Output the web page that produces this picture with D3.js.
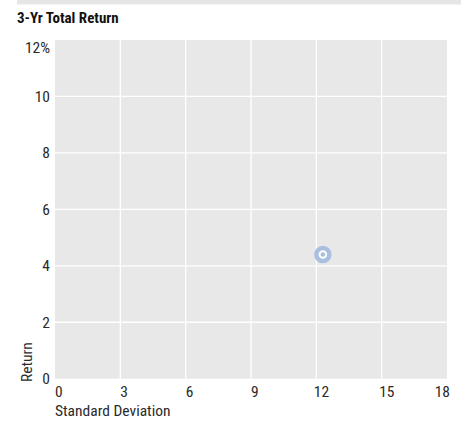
<!DOCTYPE html>
<html>
<head>
<meta charset="utf-8">
<script src="https://cdn.jsdelivr.net/npm/d3@7"></script>
<style>
  body { margin: 0; background: #fff; }
  text { font-family: "Liberation Sans Narrow", "Roboto Condensed", "Arial Narrow", sans-serif; fill: #2a2a2a; }
</style>
</head>
<body>
<svg id="canvas"></svg>
<script>
const xTicks = [0, 3, 6, 9, 12, 15, 18];
const yTicks = [0, 2, 4, 6, 8, 10, 12];
const stdDev = [12.3];
const totalReturn = [4.4];

const width = 468;
const height = 421;
const plotLeft = 55, plotRight = 447, plotTop = 40, plotBottom = 378.7;

const svg = d3.select('#canvas')
    .attr('width', width)
    .attr('height', height);

// top band + title
svg.append('rect')
    .attr('x', 17).attr('y', 0)
    .attr('width', 444).attr('height', 4.5)
    .attr('fill', '#e6e6e6');

svg.append('text')
    .attr('x', 17).attr('y', 23)
    .attr('font-size', 15)
    .attr('font-weight', 'bold')
    .style('fill', '#111')
    .text('3-Yr Total Return');

const xScale = d3.scaleLinear().domain([0, 18]).range([plotLeft, plotRight]);
const yScale = d3.scaleLinear().domain([0, 12]).range([plotBottom, plotTop]);

svg.append('rect')
    .attr('x', plotLeft).attr('y', plotTop)
    .attr('width', plotRight - plotLeft).attr('height', plotBottom - plotTop)
    .attr('fill', '#e8e8e8');

// gridlines
svg.append('g')
    .selectAll('line')
    .data(xTicks.slice(1, -1))
    .enter()
    .append('line')
    .attr('x1', d => xScale(d)).attr('x2', d => xScale(d))
    .attr('y1', plotTop).attr('y2', plotBottom)
    .attr('stroke', '#fff')
    .attr('stroke-width', 1.3);

svg.append('g')
    .selectAll('line')
    .data(yTicks.slice(1, -1))
    .enter()
    .append('line')
    .attr('y1', d => yScale(d)).attr('y2', d => yScale(d))
    .attr('x1', plotLeft).attr('x2', plotRight)
    .attr('stroke', '#fff')
    .attr('stroke-width', 1.3);

// y labels
svg.append('g')
    .selectAll('text')
    .data(yTicks)
    .enter()
    .append('text')
    .attr('x', 50)
    .attr('y', d => d === 12 ? yScale(d) + 13 : yScale(d) + 5.5)
    .attr('text-anchor', 'end')
    .attr('font-size', 15.5)
    .text(d => d === 12 ? d + '%' : d);

// x labels
svg.append('g')
    .selectAll('text')
    .data(xTicks)
    .enter()
    .append('text')
    .attr('x', d => d === 18 ? xScale(d) + 3 : (d >= 10 ? xScale(d) - 2.5 : xScale(d)))
    .attr('y', 397)
    .attr('text-anchor', d => d === 18 ? 'end' : 'start')
    .attr('font-size', 15.5)
    .text(d => d);

svg.append('text')
    .attr('transform', 'translate(32, 382) rotate(-90)')
    .attr('font-size', 15.5)
    .text('Return');

svg.append('text')
    .attr('x', 55).attr('y', 416)
    .attr('font-size', 15.5)
    .text('Standard Deviation');

// point
const pts = stdDev.map((s, i) => ({ x: s, y: totalReturn[i] }));
const g = svg.append('g');
g.selectAll('circle.ring')
    .data(pts)
    .enter()
    .append('circle')
    .attr('class', 'ring')
    .attr('cx', d => xScale(d.x))
    .attr('cy', d => yScale(d.y))
    .attr('r', 6.5)
    .attr('fill', '#fff')
    .attr('stroke', '#a8bfe0')
    .attr('stroke-width', 4.5);
g.selectAll('circle.dot')
    .data(pts)
    .enter()
    .append('circle')
    .attr('class', 'dot')
    .attr('cx', d => xScale(d.x))
    .attr('cy', d => yScale(d.y))
    .attr('r', 2.3)
    .attr('fill', '#a8bfe0');
</script>
</body>
</html>
